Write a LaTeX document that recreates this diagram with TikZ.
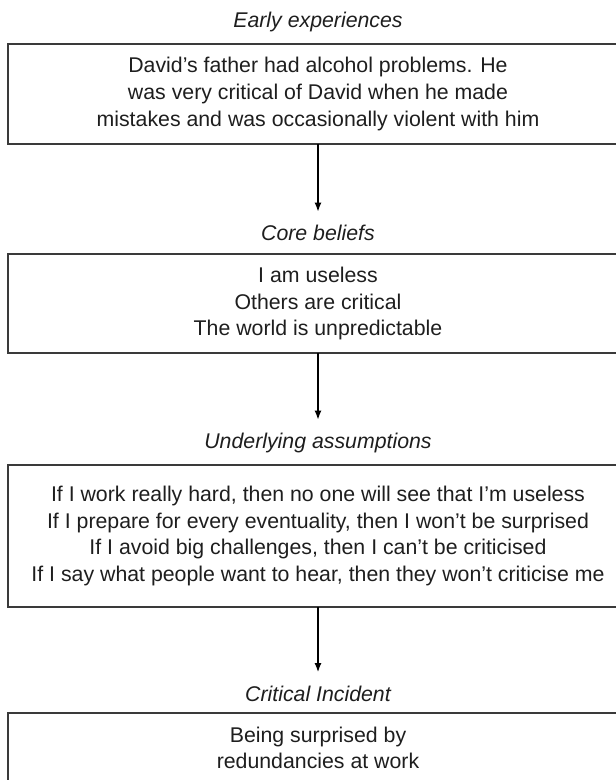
\documentclass[tikz,border=0pt]{standalone}
\usepackage{fontspec}
\setmainfont{Liberation Sans}
\usetikzlibrary{arrows.meta}
\definecolor{ink}{HTML}{1E1E1E}
\definecolor{rule}{HTML}{3A3A3A}
\begin{document}
\begin{tikzpicture}[x=1pt,y=-1pt,
  every node/.style={text=ink, font=\fontsize{21.3}{26.6}\selectfont},
  stagebox/.style={draw=rule, line width=1.5pt, minimum width=620pt,
    align=center, inner sep=0pt, outer sep=0pt},
  heading/.style={font=\fontsize{21.3}{26.6}\selectfont\itshape,
    text height=15pt, text depth=4pt, inner xsep=2pt, inner ysep=14pt, outer sep=0pt},
  flow/.style={draw=black, line width=1.2pt, -{Latex[length=9pt,width=7pt]}}]
\useasboundingbox (0,0) rectangle (616,780);
\clip (0,0) rectangle (616,780);

% stage headings
\node[heading] (t1) at (318,22)  {Early experiences};
\node[heading] (t2) at (318,235) {Core beliefs};
\node[heading] (t3) at (318,443) {Underlying assumptions};
\node[heading] (t4) at (318,695.5) {Critical Incident};

% stage contents
\node[stagebox, minimum height=100pt] (b1) at (318,94) {%
  David’s father had alcohol problems. He\\
  was very critical of David when he made\\
  mistakes and was occasionally violent with him};
\node[stagebox, minimum height=99pt] (b2) at (318,303.5) {%
  I am useless\\
  Others are critical\\
  The world is unpredictable};
\node[stagebox, minimum height=142pt] (b3) at (318,536) {%
  If I work really hard, then no one will see that I’m useless\\
  If I prepare for every eventuality, then I won’t be surprised\\
  If I avoid big challenges, then I can’t be criticised\\
  If I say what people want to hear, then they won’t criticise me};
\node[stagebox, minimum height=70pt] (b4) at (318,748) {%
  Being surprised by\\
  redundancies at work};

% connectors
\draw[flow] (b1.south) -- (t2.north);
\draw[flow] (b2.south) -- (t3.north);
\draw[flow] (b3.south) -- (t4.north);
\end{tikzpicture}
\end{document}
